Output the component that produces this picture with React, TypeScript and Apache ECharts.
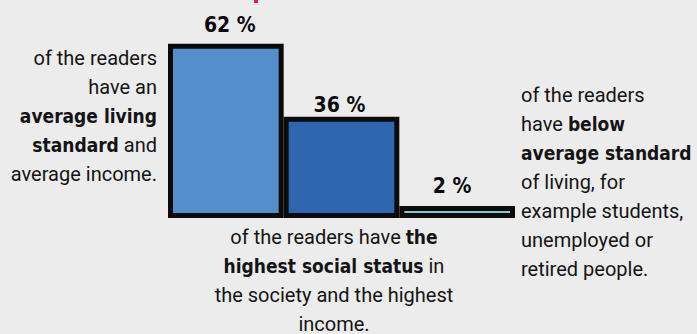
import React, { useEffect, useRef } from 'react';
import * as echarts from 'echarts';

// ---- data ----
const categories = ['Average living standard', 'Highest social status', 'Below average standard'];
const values = [62, 36, 2];
const valueLabels = ['62 %', '36 %', '2 %'];
const barColors = ['#548ecb', '#2e66b0', '#7acbd2'];

const leftText = [
  'of the readers',
  'have an',
  '{b|average living}',
  '{b|standard} and',
  'average income.',
];
const rightText = [
  'of the readers',
  'have {b|below}',
  '{b|average standard}',
  'of living, for',
  'example students,',
  'unemployed or',
  'retired people.',
];
const bottomText = [
  'of the readers have {b|the}',
  '{b|highest social status} in',
  'the society and the highest',
  'income.',
];

// label placement tweaks (style, not data)
const labelDist = [8, 1, 10];
const labelShift = [4, -2, -5];

const FONT = 'Roboto, "Liberation Sans", Arial, sans-serif';
const BOLD_FONT = '"DejaVu Sans Condensed", Roboto, "Liberation Sans", Arial, sans-serif';
const TEXT_COLOR = '#141414';

export default function App() {
  const ref = useRef<HTMLDivElement>(null);

  useEffect(() => {
    if (!ref.current) return;
    const chart = echarts.init(ref.current, null, { renderer: 'svg' });

    const rich = {
      b: { fontWeight: 'bold', fontSize: 19, lineHeight: 29, fontFamily: BOLD_FONT, color: '#0a0a0a' },
    };
    const textStyle = (align: string) => ({
      fontFamily: FONT,
      fontSize: 20,
      lineHeight: 29,
      fill: TEXT_COLOR,
      align,
      verticalAlign: 'top',
      rich,
    });

    chart.setOption({
      animation: false,
      backgroundColor: '#ececec',
      grid: { left: 168, top: 43, width: 347, height: 175 },
      xAxis: {
        type: 'category',
        data: categories,
        show: false,
      },
      yAxis: { type: 'value', min: 0, max: 62.25, show: false },
      series: [
        {
          type: 'bar',
          barWidth: 115.67,
          barMinHeight: 12,
          data: values.map((v, i) => ({
            value: v,
            itemStyle: { color: barColors[i], borderColor: '#0b0b0b', borderWidth: 5 },
            label: {
              show: true,
              position: 'top',
              distance: labelDist[i],
              offset: [labelShift[i], 0],
              formatter: valueLabels[i],
              fontFamily: BOLD_FONT,
              fontWeight: 'bold',
              fontSize: 21,
              color: '#0a0a0a',
            },
          })),
        },
      ],
      graphic: [
        { type: 'rect', left: 254, top: 0, shape: { width: 4, height: 3 }, style: { fill: '#e8127f' } },
        { type: 'text', x: 157, y: 43, style: { text: leftText.join('\n'), ...textStyle('right') } },
        { type: 'text', x: 521, y: 80, style: { text: rightText.join('\n'), ...textStyle('left') } },
        { type: 'text', x: 334, y: 222, style: { text: bottomText.join('\n'), ...textStyle('center') } },
      ],
    });

    return () => chart.dispose();
  }, []);

  return (
    <div
      ref={ref}
      style={{ position: 'absolute', left: 0, top: 0, width: 697, height: 334 }}
    />
  );
}
